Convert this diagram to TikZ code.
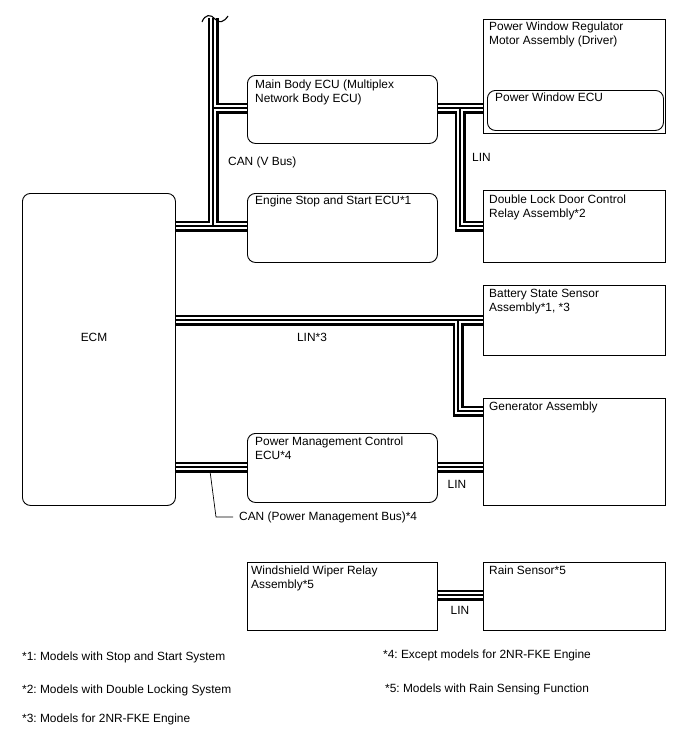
\documentclass[tikz,border=0pt]{standalone}
\usepackage{fontspec}
\setmainfont{Liberation Sans}
\frenchspacing
\begin{document}
\begin{tikzpicture}[x=1pt,y=-1pt,
  box/.style={draw,line width=0.9pt,anchor=north west,inner sep=0pt},
  rbox/.style={box,rounded corners=8pt},
  txt/.style={anchor=north west,inner sep=0pt,align=left,font=\fontsize{11.9}{13.8}\selectfont},
  lab/.style={inner sep=0pt,font=\fontsize{11.9}{13.8}\selectfont},
  busA/.style={line width=11pt,black,line join=miter},
  busB/.style={line width=6.8pt,white,line join=miter},
  busC/.style={line width=2.6pt,black,line join=miter},
  lead/.style={line width=0.7pt}]
\useasboundingbox (0,0) rectangle (688,755);
% boxes
\node[rbox,minimum width=153pt,minimum height=312pt] (ecm) at (22,193) {};
\node[lab] (ecmt) at (94,337) {ECM};
\node[rbox,minimum width=190pt,minimum height=68pt] (mb) at (247,75) {};
\node[txt] (mbt) at (255,80) {Main Body ECU (Multiplex\\Network Body ECU)};
\node[rbox,minimum width=190pt,minimum height=69pt] (es) at (247,193) {};
\node[txt] (est) at (255,196) {Engine Stop and Start ECU*1};
\node[rbox,minimum width=190pt,minimum height=69pt] (pm) at (247,433) {};
\node[txt] (pmt) at (255,437) {Power Management Control\\ECU*4};
\node[box,minimum width=190pt,minimum height=68pt] (ww) at (247,562) {};
\node[txt] (wwt) at (251,566) {Windshield Wiper Relay\\Assembly*5};
\node[box,minimum width=182pt,minimum height=114pt] (pwr) at (483,19) {};
\node[txt] (pwrt) at (489,22) {Power Window Regulator\\Motor Assembly (Driver)};
\node[rbox,minimum width=176pt,minimum height=40pt] (pwe) at (487,90) {};
\node[txt] (pwet) at (495,93) {Power Window ECU};
\node[box,minimum width=182pt,minimum height=72pt] (dl) at (483,190) {};
\node[txt] (dlt) at (489,195) {Double Lock Door Control\\Relay Assembly*2};
\node[box,minimum width=182pt,minimum height=70pt] (bs) at (483,285) {};
\node[txt] (bst) at (489,289) {Battery State Sensor\\Assembly*1, *3};
\node[box,minimum width=182pt,minimum height=107pt] (gen) at (483,398) {};
\node[txt] (gent) at (489,402) {Generator Assembly};
\node[box,minimum width=182pt,minimum height=68pt] (rs) at (483,562) {};
\node[txt] (rst) at (489,566) {Rain Sensor*5};
% bus coordinates
\coordinate (canY) at (0,226);
\coordinate (mbY) at (0,108);
\coordinate (trunkX) at (213,0);
\coordinate (top) at (213,18);
\coordinate (dlX) at (460,0);
\coordinate (lin3Y) at (0,320);
\coordinate (lin3X) at (458,0);
\coordinate (genY) at (0,411);
\coordinate (pmY) at (0,467);
\coordinate (rainY) at (0,595);
\newcommand\allbuses[1]{%
  \draw[#1] (ecm.east |- canY) -- (es.west |- canY);
  \draw[#1] (top) -- (trunkX |- canY);
  \draw[#1] (trunkX |- mbY) -- (mb.west |- mbY);
  \draw[#1] (mb.east |- mbY) -- (pwr.west |- mbY);
  \draw[#1] (dlX |- mbY) -- (dlX |- canY) -- (dl.west |- canY);
  \draw[#1] (ecm.east |- lin3Y) -- (bs.west |- lin3Y);
  \draw[#1] (lin3X |- lin3Y) -- (lin3X |- genY) -- (gen.west |- genY);
  \draw[#1] (ecm.east |- pmY) -- (pm.west |- pmY);
  \draw[#1] (pm.east |- pmY) -- (gen.west |- pmY);
  \draw[#1] (ww.east |- rainY) -- (rs.west |- rainY);
}
\allbuses{busA}
\allbuses{busB}
\allbuses{busC}
% break mark
\draw[line width=1.1pt] (202,22) .. controls (205,14) and (211,14) .. (215,19) .. controls (219,24) and (224,22) .. (228,16);
% labels
\node[lab,anchor=west] (canv) at (228,162) {CAN (V Bus)};
\node[lab,anchor=west] (lin1) at (472,157) {LIN};
\node[lab] (lin3) at (312,337) {LIN*3};
\node[lab] (lin4) at (457,484) {LIN};
\node[lab] (lin5) at (460,610) {LIN};
\node[lab,anchor=west] (canpm) at (239,517) {CAN (Power Management Bus)*4};
\coordinate (ldA) at (210,471);
\draw[lead] (ldA) -- (216,517) -- ([xshift=-6pt]canpm.west);
% footnotes
\node[txt] (f1) at (22,652) {*1: Models with Stop and Start System};
\node[txt] (f2) at (22,685) {*2: Models with Double Locking System};
\node[txt] (f3) at (22,714) {*3: Models for 2NR-FKE Engine};
\node[txt] (f4) at (383,650) {*4: Except models for 2NR-FKE Engine};
\node[txt] (f5) at (385,684) {*5: Models with Rain Sensing Function};
\end{tikzpicture}
\end{document}
